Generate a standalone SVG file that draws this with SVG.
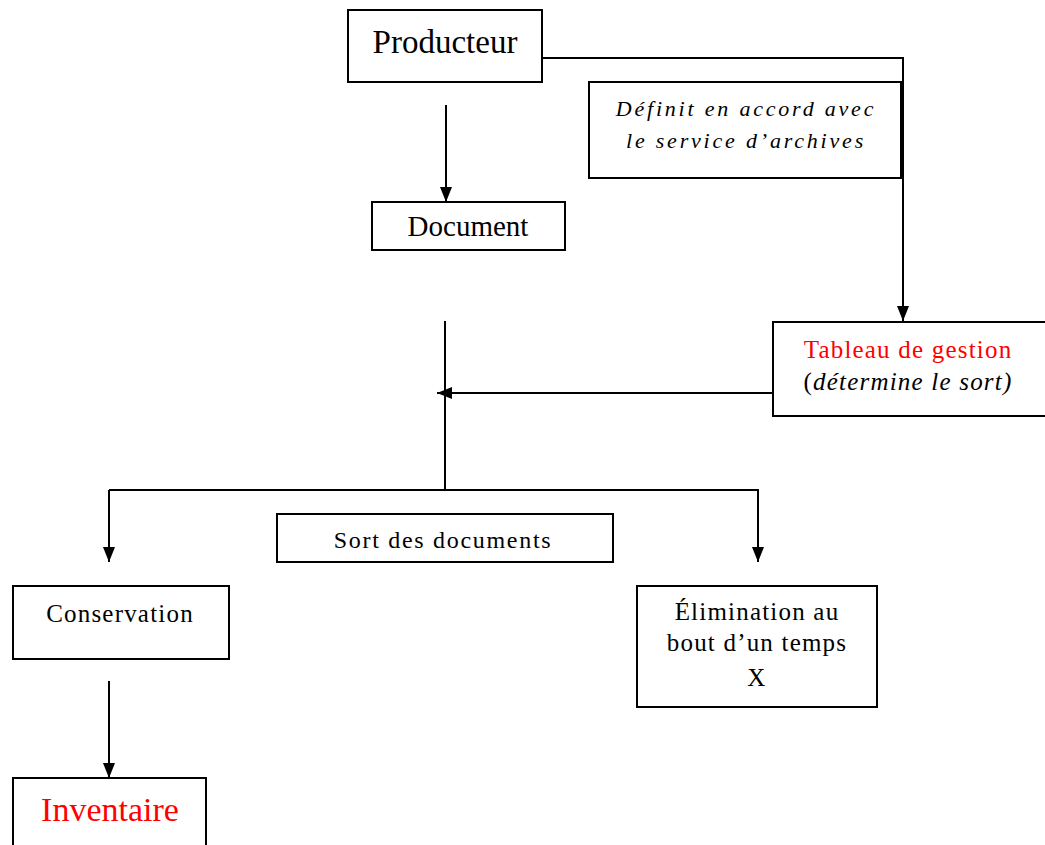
<svg xmlns="http://www.w3.org/2000/svg" width="1045" height="845" viewBox="0 0 1045 845">
<style>
.box{fill:#fff;stroke:#000;stroke-width:2}
.t{font-family:"Liberation Serif","Times New Roman",serif;fill:#000;text-anchor:middle}
.i{font-style:italic}
.red{fill:#ff0000}
.c{fill:none;stroke:#000;stroke-width:2}
.s{font-size:25px;letter-spacing:1.2px}
</style>
<defs>
<marker id="ah" viewBox="0 0 15 12" refX="15" refY="6" markerWidth="15" markerHeight="12" markerUnits="userSpaceOnUse" orient="auto">
<path d="M0,0 L15,6 L0,12 Z" fill="#000"/>
</marker>
</defs>
<g id="connectors">
<path class="c" d="M542,58 H903 V321" marker-end="url(#ah)"/>
<path class="c" d="M446,105 V202" marker-end="url(#ah)"/>
<path class="c" d="M445,321 V490"/>
<path class="c" d="M773,393 H437" marker-end="url(#ah)"/>
<path class="c" d="M109,490 H759"/>
<path class="c" d="M109,490 V562" marker-end="url(#ah)"/>
<path class="c" d="M758,490 V562" marker-end="url(#ah)"/>
<path class="c" d="M109,681 V778" marker-end="url(#ah)"/>
</g>
<g id="producteur">
<rect class="box" x="348" y="10" width="194" height="72"/>
<text class="t" x="445" y="53" font-size="33">Producteur</text>
</g>
<g id="definit">
<rect class="box" x="589" y="82" width="312" height="96"/>
<text class="t i" x="746" y="116" font-size="22" letter-spacing="2.8">Définit en accord avec</text>
<text class="t i" x="746" y="148" font-size="22" letter-spacing="2.8">le service d’archives</text>
</g>
<g id="document">
<rect class="box" x="372" y="202" width="193" height="48"/>
<text class="t" x="468" y="236" font-size="29">Document</text>
</g>
<g id="tableau">
<rect class="box" x="773" y="322" width="280" height="94"/>
<text class="t red" x="908" y="358" font-size="25" letter-spacing="1.2">Tableau de gestion</text>
<text class="t" x="908" y="390" font-size="25" letter-spacing="1.2">(<tspan class="i">détermine le sort)</tspan></text>
</g>
<g id="sort">
<rect class="box" x="277" y="514" width="336" height="48"/>
<text class="t" x="443" y="548" font-size="24" letter-spacing="1.7">Sort des documents</text>
</g>
<g id="conservation">
<rect class="box" x="13" y="586" width="216" height="73"/>
<text class="t s" x="120" y="622">Conservation</text>
</g>
<g id="elimination">
<rect class="box" x="637" y="586" width="240" height="121"/>
<text class="t s" x="757" y="620">Élimination au</text>
<text class="t s" x="757" y="651">bout d’un temps</text>
<text class="t s" x="757" y="686">X</text>
</g>
<g id="inventaire">
<rect class="box" x="13" y="778" width="193" height="80"/>
<text class="t red" x="110" y="821" font-size="34">Inventaire</text>
</g>
</svg>
